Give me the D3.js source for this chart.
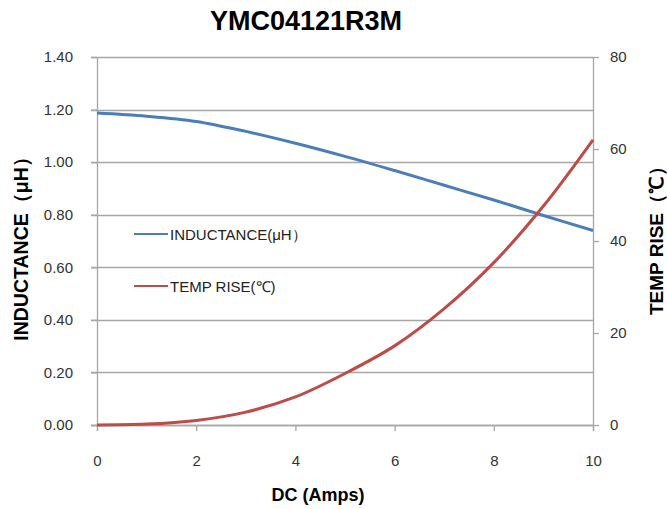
<!DOCTYPE html>
<html>
<head>
<meta charset="utf-8">
<script src="https://cdn.jsdelivr.net/npm/d3@7"></script>
<style>
  body { margin: 0; background: #fff; }
  svg text { font-family: "Liberation Sans", Arial, sans-serif; }
</style>
</head>
<body>
<script>
//chart data
var current = [0, 1, 2, 3, 4, 5, 6, 7, 8, 9, 10];
var inductance = [1.187, 1.175, 1.155, 1.117, 1.072, 1.022, 0.968, 0.912, 0.856, 0.797, 0.740];
var tempRise = [0, 0.2, 1.0, 2.8, 6.1, 11.2, 17.2, 25.3, 35.3, 47.6, 62];
var xTicks = [0, 2, 4, 6, 8, 10];
var leftTicks = [0, 0.2, 0.4, 0.6, 0.8, 1.0, 1.2, 1.4];
var rightTicks = [0, 20, 40, 60, 80];

window.onload = drawChart();

function drawChart(){

    var width = 667,
        height = 509;

    var svg = d3.select("body")
        .append("svg")
        .attr("width", width)
        .attr("height", height);

    //plot frame
    var left = 97, right = 593, top = 57, bottom = 425;

    var x = d3.scaleLinear().domain([0, 10]).range([left, right]);
    var yL = d3.scaleLinear().domain([0, 1.4]).range([bottom, top]);
    var yR = d3.scaleLinear().domain([0, 80]).range([bottom, top]);

    var gridColor = "#a6a6a6";

    //horizontal gridlines
    svg.append("g")
        .selectAll("line")
        .data(leftTicks)
        .enter()
        .append("line")
        .attr("x1", left - 6)
        .attr("x2", right)
        .attr("y1", function(d){ return Math.round(yL(d)) + 0.5; })
        .attr("y2", function(d){ return Math.round(yL(d)) + 0.5; })
        .attr("stroke", gridColor)
        .attr("stroke-width", 1.3);

    //left axis
    var axisL = svg.append("g")
        .attr("transform", "translate(" + left + ",0)")
        .call(d3.axisLeft(yL).tickValues(leftTicks).tickFormat(d3.format(".2f")).tickSize(6).tickPadding(18));

    //right axis
    var axisR = svg.append("g")
        .attr("transform", "translate(" + right + ",0)")
        .call(d3.axisRight(yR).tickValues(rightTicks).tickSize(6).tickPadding(11));

    //bottom axis
    var axisB = svg.append("g")
        .attr("transform", "translate(0," + bottom + ")")
        .call(d3.axisBottom(x).tickValues(xTicks).tickSize(6).tickPadding(24));

    [axisL, axisR, axisB].forEach(function(a){
        a.select(".domain").attr("stroke", gridColor).attr("stroke-width", 1.3);
        a.selectAll(".tick line").attr("stroke", gridColor).attr("stroke-width", 1.3);
        a.selectAll(".tick text")
            .attr("fill", "#333")
            .style("font-size", "15px")
            .style("font-family", "'Liberation Sans', Arial, sans-serif");
    });
    axisL.select(".domain").attr("d", "M0.5," + top + "V" + (bottom + 6));
    axisR.select(".domain").attr("d", "M0.5," + top + "V" + (bottom + 6));
    axisB.select(".domain").attr("d", "M" + (left - 6) + ",0.5H" + right);

    //series lines (smoothed like the spreadsheet)
    var lineL = d3.line()
        .x(function(d, i){ return x(current[i]); })
        .y(function(d){ return yL(d); })
        .curve(d3.curveCatmullRom);

    var lineR = d3.line()
        .x(function(d, i){ return x(current[i]); })
        .y(function(d){ return yR(d); })
        .curve(d3.curveCatmullRom);

    svg.append("path")
        .datum(inductance)
        .attr("d", lineL)
        .attr("fill", "none")
        .attr("stroke", "#4a7ebb")
        .attr("stroke-width", 3);

    svg.append("path")
        .datum(tempRise)
        .attr("d", lineR)
        .attr("fill", "none")
        .attr("stroke", "#be4b48")
        .attr("stroke-width", 3);

    //legend
    var legend = [
        {name: "INDUCTANCE(μH\uFF09", color: "#4a7ebb", y: 234},
        {name: "TEMP RISE(\u2103)", color: "#be4b48", y: 286}
    ];
    var lg = svg.selectAll(".legend")
        .data(legend)
        .enter()
        .append("g")
        .attr("class", "legend");
    lg.append("line")
        .attr("x1", 134).attr("x2", 168)
        .attr("y1", function(d){ return d.y; })
        .attr("y2", function(d){ return d.y; })
        .attr("stroke", function(d){ return d.color; })
        .attr("stroke-width", 2);
    lg.append("text")
        .attr("x", 170)
        .attr("y", function(d){ return d.y + 6; })
        .attr("fill", "#222")
        .style("font-size", "15px")
        .text(function(d){ return d.name; });

    //titles
    svg.append("text")
        .attr("x", 306)
        .attr("y", 30)
        .attr("text-anchor", "middle")
        .style("font-size", "27px")
        .style("font-weight", "bold")
        .text("YMC04121R3M");

    svg.append("text")
        .attr("x", 318)
        .attr("y", 501)
        .attr("text-anchor", "middle")
        .style("font-size", "18px")
        .style("font-weight", "bold")
        .text("DC (Amps)");

    svg.append("text")
        .attr("transform", "translate(28,244) rotate(-90)")
        .attr("text-anchor", "middle")
        .style("font-size", "19.5px")
        .style("font-weight", "bold")
        .text("INDUCTANCE\uFF08μH\uFF09");

    svg.append("text")
        .attr("transform", "translate(663,236) rotate(-90)")
        .attr("text-anchor", "middle")
        .style("font-size", "19px")
        .style("font-weight", "bold")
        .text("TEMP RISE\uFF08\u2103\uFF09");
}
</script>
</body>
</html>
